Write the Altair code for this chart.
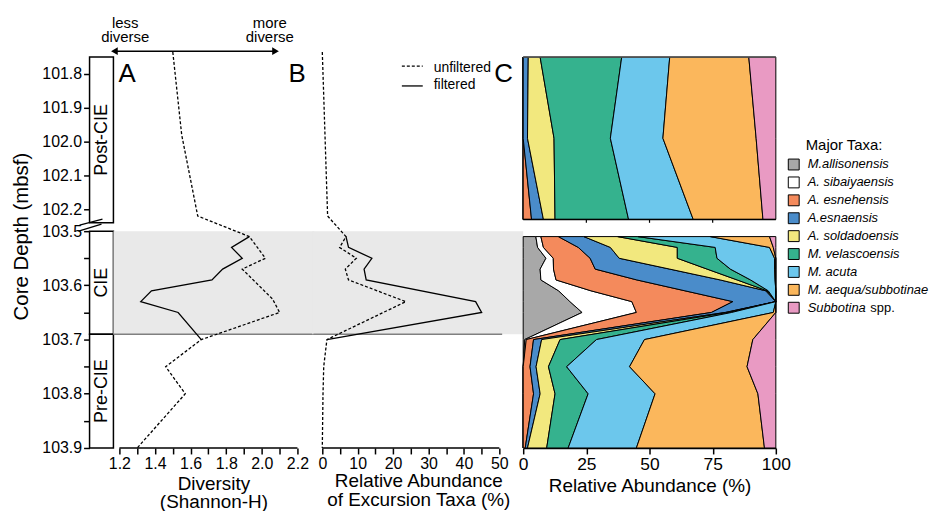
import altair as alt
import pandas as pd

FONT = "Liberation Sans"

# ---------------- data ----------------
# Panel A: diversity (Shannon-H)
depth_div_unf = [101.735, 101.98, 102.22, 103.51, 103.55, 103.57, 103.625, 103.65, 103.70, 103.75, 103.80, 103.90]
div_unf = [1.50, 1.55, 1.64, 1.93, 2.02, 1.89, 2.06, 2.10, 1.66, 1.46, 1.57, 1.30]
depth_div_fil = [103.51, 103.53, 103.55, 103.57, 103.59, 103.61, 103.63, 103.65, 103.70]
div_fil = [1.93, 1.83, 1.89, 1.78, 1.72, 1.38, 1.32, 1.53, 1.66]

# Panel B: relative abundance of excursion taxa (%)
depth_exc_unf = [101.735, 102.22, 103.51, 103.53, 103.55, 103.57, 103.59, 103.63, 103.70, 103.75, 103.80, 103.90]
exc_unf = [0.0, 1.5, 6.7, 4.9, 9.6, 6.5, 7.4, 23.6, 1.3, 0.4, 0.2, 0.0]
depth_exc_fil = [103.51, 103.53, 103.55, 103.57, 103.59, 103.63, 103.65, 103.70]
exc_fil = [6.7, 7.4, 14.0, 11.8, 12.4, 43.3, 45.0, 1.3]

# Panel C: major taxa relative abundance (%)
taxa = ["M.allisonensis", "A. sibaiyaensis", "A. esnehensis", "A.esnaensis", "A. soldadoensis",
        "M. velascoensis", "M. acuta", "M. aequa/subbotinae", "Subbotina spp."]
taxa_label = ["M.allisonensis", "A. sibaiyaensis", "A. esnehensis", "A.esnaensis", "A. soldadoensis",
              "M. velascoensis", "M. acuta", "M. aequa/subbotinae", "Subbotina"]
taxa_suffix = ["", "", "", "", "", "", "", "", "spp."]
taxa_colors = ["#a8a8a8", "#ffffff", "#f48a5c", "#4a8cca", "#f2e87e", "#35b28e", "#6cc7ec", "#fbb75c", "#e99ac3"]

depth_taxa = [101.75, 101.99, 102.23,
              103.51, 103.53, 103.55, 103.57, 103.59, 103.61, 103.63, 103.65, 103.70, 103.75, 103.80, 103.90]
segment = ["upper"] * 3 + ["lower"] * 12
ab_allis = [0, 0, 0, 5.0, 5.7, 9.0, 6.7, 7.0, 14.0, 18.5, 23.3, 0.6, 0, 0, 0]
ab_sib = [0, 0, 0, 2.0, 2.3, 2.9, 5.3, 6.0, 12.8, 24.5, 21.5, 0.6, 0, 0, 0]
ab_esneh = [0, 0, 3.3, 6.9, 13.8, 14.6, 16.5, 32.0, 37.2, 40.0, 29.7, 2.9, 2.7, 4.1, 0.8]
ab_esna = [2.0, 1.7, 4.7, 10.1, 12.7, 11.5, 29.5, 33.0, 32.0, 17.0, 5.5, 3.2, 2.4, 2.6, 0.9]
ab_sold = [4.7, 10.5, 4.6, 13.3, 26.5, 23.0, 14.8, 6.7, 0.5, 0, 1.0, 7.3, 4.9, 5.9, 7.6]
ab_velas = [32.3, 22.3, 29.1, 8.0, 15.0, 15.7, 9.2, 5.3, 0.5, 0, 1.5, 14.4, 7.2, 13.1, 8.5]
ab_acuta = [19.0, 20.8, 25.6, 28.7, 21.5, 22.8, 17.5, 9.7, 3.0, 0, 16.5, 19.0, 24.9, 26.5, 27.0]
ab_aequa = [31.3, 36.9, 27.6, 23.5, 1.5, 0.5, 0.5, 0.3, 0, 0, 1.0, 42.9, 46.5, 40.7, 50.7]
ab_subb = [10.7, 7.8, 5.1, 2.5, 1.0, 0, 0, 0, 0, 0, 0, 9.1, 11.4, 7.1, 4.5]
abundances = [ab_allis, ab_sib, ab_esneh, ab_esna, ab_sold, ab_velas, ab_acuta, ab_aequa, ab_subb]

# zones
zone_names = ["Post-CIE", "CIE", "Pre-CIE"]
zone_top = [101.75, 103.5, 103.69]
zone_bottom = [102.24, 103.69, 103.9]
cie_band = [103.5, 103.69]

depth_ticks = [101.8, 101.9, 102.0, 102.1, 102.2, 103.5, 103.55, 103.6, 103.65, 103.7, 103.75, 103.8, 103.85, 103.9]
div_ticks = [1.2, 1.3, 1.4, 1.5, 1.6, 1.7, 1.8, 1.9, 2.0, 2.1, 2.2]
exc_ticks = [0, 5, 10, 15, 20, 25, 30, 35, 40, 45, 50]
abund_ticks = [0, 25, 50, 75, 100]

# ---------------- tables ----------------
df_a_unf = pd.DataFrame({"d": depth_div_unf, "v": div_unf})
df_a_fil = pd.DataFrame({"d": depth_div_fil, "v": div_fil})
df_b_unf = pd.DataFrame({"d": depth_exc_unf, "v": exc_unf})
df_b_fil = pd.DataFrame({"d": depth_exc_fil, "v": exc_fil})
rows = []
for i, (t, vals) in enumerate(zip(taxa, abundances)):
    for d, s, v in zip(depth_taxa, segment, vals):
        rows.append({"depth": d, "seg": s, "taxon": t, "idx": i, "value": v})
df_c = pd.DataFrame(rows)
df_zone = pd.DataFrame({"zone": zone_names, "top": zone_top, "bottom": zone_bottom})
df_band = pd.DataFrame({"top": [cie_band[0]], "bottom": [cie_band[1]]})
df_leg = pd.DataFrame({"taxon": taxa, "idx": list(range(len(taxa))), "label": taxa_label, "suffix": taxa_suffix})

# ---------------- layout constants ----------------
H = 393
WZ, WA, WB, WC, WL = 24, 201, 211, 254, 150
yscale = alt.Scale(domain=[101.75, 102.24, 103.5, 103.9], range=[0, 166.6, 175, H], nice=False, zero=False)
cscale = alt.Scale(domain=taxa, range=taxa_colors)
xA = alt.Scale(domain=[1.1665, 2.2894], nice=False, zero=False)
xB = alt.Scale(domain=[-2.53, 56.74], nice=False, zero=False)
xC = alt.Scale(domain=[0, 100], nice=False, zero=False)

LBL = 16
TTL = 19

# ---------------- Zone column with depth axis ----------------
y_axis = alt.Axis(values=depth_ticks, domain=False, tickSize=6, tickWidth=1.5, labelFontSize=LBL,
                  labelPadding=2, labelOverlap=False, labelFlush=False, labelBound=False,
                  labelExpr="(round(datum.value*100) % 10 == 5) ? '' : format(datum.value, '.1f')",
                  title="Core Depth (mbsf)", titleFontSize=20.5, titlePadding=10, titleY=180)
z_rect = alt.Chart(df_zone).mark_rect(fill="white", stroke="black", strokeWidth=1.5).encode(
    x=alt.value(0), x2=alt.value(WZ),
    y=alt.Y("top:Q", scale=yscale, axis=y_axis),
    y2="bottom:Q")
z_text = alt.Chart(df_zone).transform_calculate(mid="(datum.top + datum.bottom) / 2").mark_text(
    angle=270, fontSize=18, baseline="middle", align="center").encode(
    x=alt.value(WZ / 2 + 1), y=alt.Y("mid:Q", scale=yscale, axis=y_axis), text="zone:N")
z_break1 = alt.Chart(df_band).mark_rule(color="black", strokeWidth=1.3).encode(
    x=alt.value(-10), x2=alt.value(13), y=alt.value(169), y2=alt.value(163))
z_break2 = alt.Chart(df_band).mark_rule(color="black", strokeWidth=1.3).encode(
    x=alt.value(-11), x2=alt.value(12), y=alt.value(175), y2=alt.value(168))
zone_panel = alt.layer(z_rect, z_text, z_break1, z_break2).properties(width=WZ, height=H)

# ---------------- Panel A ----------------
a_axis = alt.Axis(values=div_ticks, domain=False, tickSize=6, tickWidth=1.5, labelFontSize=LBL,
                  labelOverlap=False, labelFlush=False, labelPadding=2,
                  labelExpr="(round(datum.value*10) % 2 == 0) ? format(datum.value, '.1f') : ''",
                  title=["Diversity", "(Shannon-H)"], titleFontSize=TTL, titleLineHeight=18,
                  titlePadding=3)
a_band = alt.Chart(df_band).mark_rect(color="#e9e9e9").encode(
    x=alt.value(0), x2=alt.value(WA + 1), y=alt.Y("top:Q", scale=yscale, axis=None), y2="bottom:Q")
a_hline = alt.Chart(df_band).mark_rule(color="#808080", strokeWidth=1.5).encode(
    x=alt.value(0), x2=alt.value(WA + 1), y=alt.Y("bottom:Q", scale=yscale, axis=None))
a_unf = alt.Chart(df_a_unf).mark_line(color="black", strokeDash=[3, 2], strokeWidth=1.3).encode(
    x=alt.X("v:Q", scale=xA, axis=a_axis),
    y=alt.Y("d:Q", scale=yscale, axis=None), order="d:Q")
a_fil = alt.Chart(df_a_fil).mark_line(color="black", strokeWidth=1.3).encode(
    x=alt.X("v:Q", scale=xA, axis=a_axis), y=alt.Y("d:Q", scale=yscale, axis=None), order="d:Q")
a_axisline = alt.Chart(pd.DataFrame({"x": [div_ticks[0]], "x2": [div_ticks[-1]]})).mark_rule(
    color="black", strokeWidth=1.5).encode(x=alt.X("x:Q", scale=xA, axis=a_axis), x2="x2:Q", y=alt.value(H))
arrow_df = pd.DataFrame({"x": [1.172], "x2": [2.077]})
a_arrow = alt.Chart(arrow_df).mark_rule(color="black", strokeWidth=1.5).encode(
    x=alt.X("x:Q", scale=xA, axis=a_axis), x2="x2:Q", y=alt.value(-6))
a_head_l = alt.Chart(arrow_df).mark_point(shape="triangle-left", filled=True, color="black", size=60, opacity=1).encode(
    x=alt.X("x:Q", scale=xA, axis=a_axis), y=alt.value(-6))
a_head_r = alt.Chart(arrow_df).mark_point(shape="triangle-right", filled=True, color="black", size=60, opacity=1).encode(
    x=alt.X("x2:Q", scale=xA, axis=a_axis), y=alt.value(-6))
lbl_df = pd.DataFrame({"x": [1.233, 2.045], "t": ["less\ndiverse", "more\ndiverse"]})
a_lbl = alt.Chart(lbl_df).mark_text(fontSize=15, lineBreak="\n", lineHeight=14, baseline="top", align="center").encode(
    x=alt.X("x:Q", scale=xA, axis=a_axis), y=alt.value(-41), text="t:N")
a_letter = alt.Chart(pd.DataFrame({"t": ["A"]})).mark_text(fontSize=26, align="left", baseline="alphabetic").encode(
    x=alt.value(5), y=alt.value(25), text="t:N")
panel_a = alt.layer(a_band, a_hline, a_axisline, a_unf, a_fil, a_arrow, a_head_l, a_head_r, a_lbl, a_letter).properties(
    width=WA, height=H)

# ---------------- Panel B ----------------
b_axis = alt.Axis(values=exc_ticks, domain=False, tickSize=6, tickWidth=1.5, labelFontSize=LBL,
                  labelOverlap=False, labelFlush=False, labelPadding=2,
                  labelExpr="(round(datum.value) % 10 == 0) ? datum.value : ''",
                  title=["Relative Abundance", "of Excursion Taxa (%)"], titleFontSize=TTL,
                  titleLineHeight=19, titlePadding=0)
b_band = alt.Chart(df_band).mark_rect(color="#e9e9e9").encode(
    x=alt.value(-1), x2=alt.value(WB), y=alt.Y("top:Q", scale=yscale, axis=None), y2="bottom:Q")
b_hline = alt.Chart(pd.DataFrame({"x": [-2.53], "x2": [50.8], "d": [cie_band[1]]})).mark_rule(
    color="#808080", strokeWidth=1.5).encode(
    x=alt.X("x:Q", scale=xB, axis=b_axis), x2="x2:Q", y=alt.Y("d:Q", scale=yscale, axis=None))
b_unf = alt.Chart(df_b_unf).mark_line(color="black", strokeDash=[3, 2], strokeWidth=1.3).encode(
    x=alt.X("v:Q", scale=xB, axis=b_axis),
    y=alt.Y("d:Q", scale=yscale, axis=None), order="d:Q")
b_fil = alt.Chart(df_b_fil).mark_line(color="black", strokeWidth=1.3).encode(
    x=alt.X("v:Q", scale=xB, axis=b_axis), y=alt.Y("d:Q", scale=yscale, axis=None), order="d:Q")
b_axisline = alt.Chart(pd.DataFrame({"x": [exc_ticks[0]], "x2": [exc_ticks[-1]]})).mark_rule(
    color="black", strokeWidth=1.5).encode(x=alt.X("x:Q", scale=xB, axis=b_axis), x2="x2:Q", y=alt.value(H))
b_letter = alt.Chart(pd.DataFrame({"t": ["B"]})).mark_text(fontSize=26, align="left", baseline="alphabetic").encode(
    x=alt.value(-25), y=alt.value(25), text="t:N")
b_key_dash = alt.Chart(pd.DataFrame({"t": ["unfiltered"]})).mark_rule(color="black", strokeDash=[3, 2], strokeWidth=1.3).encode(
    x=alt.value(89), x2=alt.value(110), y=alt.value(9))
b_key_solid = alt.Chart(pd.DataFrame({"t": ["filtered"]})).mark_rule(color="black", strokeWidth=1.3).encode(
    x=alt.value(89), x2=alt.value(110), y=alt.value(29))
b_key_t1 = alt.Chart(pd.DataFrame({"t": ["unfiltered"]})).mark_text(fontSize=14, align="left", baseline="middle").encode(
    x=alt.value(121), y=alt.value(11), text="t:N")
b_key_t2 = alt.Chart(pd.DataFrame({"t": ["filtered"]})).mark_text(fontSize=14, align="left", baseline="middle").encode(
    x=alt.value(121), y=alt.value(28), text="t:N")
panel_b = alt.layer(b_band, b_hline, b_axisline, b_unf, b_fil, b_letter, b_key_dash, b_key_solid,
                    b_key_t1, b_key_t2).properties(width=WB, height=H)

# ---------------- Panel C ----------------
c_axis = alt.Axis(values=abund_ticks, tickSize=6, tickWidth=1.5, domainWidth=1.5, labelFontSize=17.5,
                  labelFlush=False, labelOverlap=False, labelPadding=2, title="Relative Abundance (%)",
                  titleFontSize=TTL, titlePadding=3)


def area_layer(seg):
    return alt.Chart(df_c).transform_filter(alt.datum.seg == seg).mark_area(
        orient="horizontal", stroke="black", strokeWidth=1, interpolate="linear", opacity=1).encode(
        x=alt.X("value:Q", stack="zero", scale=xC, axis=c_axis),
        y=alt.Y("depth:Q", scale=yscale, axis=None),
        color=alt.Color("taxon:N", scale=cscale, legend=None),
        order=alt.Order("idx:Q"))


c_top = alt.Chart(pd.DataFrame({"x": [0], "x2": [100], "d": [depth_taxa[0]]})).mark_rule(
    color="#555555", strokeWidth=1.5).encode(
    x=alt.X("x:Q", scale=xC, axis=c_axis), x2="x2:Q", y=alt.Y("d:Q", scale=yscale, axis=None))
c_bot = alt.Chart(pd.DataFrame({"x": [0], "x2": [100], "d": [depth_taxa[2]]})).mark_rule(
    color="black", strokeWidth=1.5).encode(
    x=alt.X("x:Q", scale=xC, axis=c_axis), x2="x2:Q", y=alt.Y("d:Q", scale=yscale, axis=None))
c_ticks = alt.Chart(pd.DataFrame({"x": abund_ticks[1:-1], "d": [depth_taxa[2]] * 3, "d2": [102.24] * 3})).mark_rule(
    color="black", strokeWidth=1.2).encode(
    x=alt.X("x:Q", scale=xC, axis=c_axis), y=alt.Y("d:Q", scale=yscale, axis=None), y2="d2:Q")
c_letter = alt.Chart(pd.DataFrame({"t": ["C"]})).mark_text(fontSize=26, align="left", baseline="alphabetic").encode(
    x=alt.value(-29), y=alt.value(25), text="t:N")
panel_c = alt.layer(area_layer("lower"), area_layer("upper"), c_top, c_bot, c_ticks, c_letter).properties(
    width=WC, height=H)

# ---------------- Legend ----------------
ly = alt.Y("idx:Q", scale=alt.Scale(domain=[0, 8], range=[108, 252], nice=False, zero=False), axis=None)
l_title = alt.Chart(pd.DataFrame({"t": ["Major Taxa:"]})).mark_text(fontSize=15, align="left", baseline="middle").encode(
    x=alt.value(30), y=alt.value(88), text="t:N")
l_sq = alt.Chart(df_leg).mark_square(size=120, stroke="black", strokeWidth=1, opacity=1, filled=True).encode(
    x=alt.value(18), y=ly, fill=alt.Fill("taxon:N", scale=cscale, legend=None))
l_txt = alt.Chart(df_leg).mark_text(fontSize=13, fontStyle="italic", align="left", baseline="middle").encode(
    x=alt.value(32), y=ly, text="label:N")
l_suf = alt.Chart(df_leg).transform_filter("datum.suffix != ''").mark_text(
    fontSize=13, align="left", baseline="middle").encode(x=alt.value(95), y=ly, text="suffix:N")
legend_panel = alt.layer(l_title, l_sq, l_txt, l_suf).properties(width=WL, height=H)

chart = alt.hconcat(zone_panel, panel_a, panel_b, panel_c, legend_panel, spacing=0, bounds="flush").properties(
    padding={"left": 3, "top": 7, "right": 0, "bottom": 0}
).configure(font=FONT).configure_view(stroke=None).configure_axis(
    labelFont=FONT, titleFont=FONT, titleFontWeight="normal", labelColor="black", titleColor="black",
    tickColor="black", domainColor="black", grid=False, labelOverlap=False)

chart.save("out.html", embed_options={"renderer": "svg", "actions": False})
